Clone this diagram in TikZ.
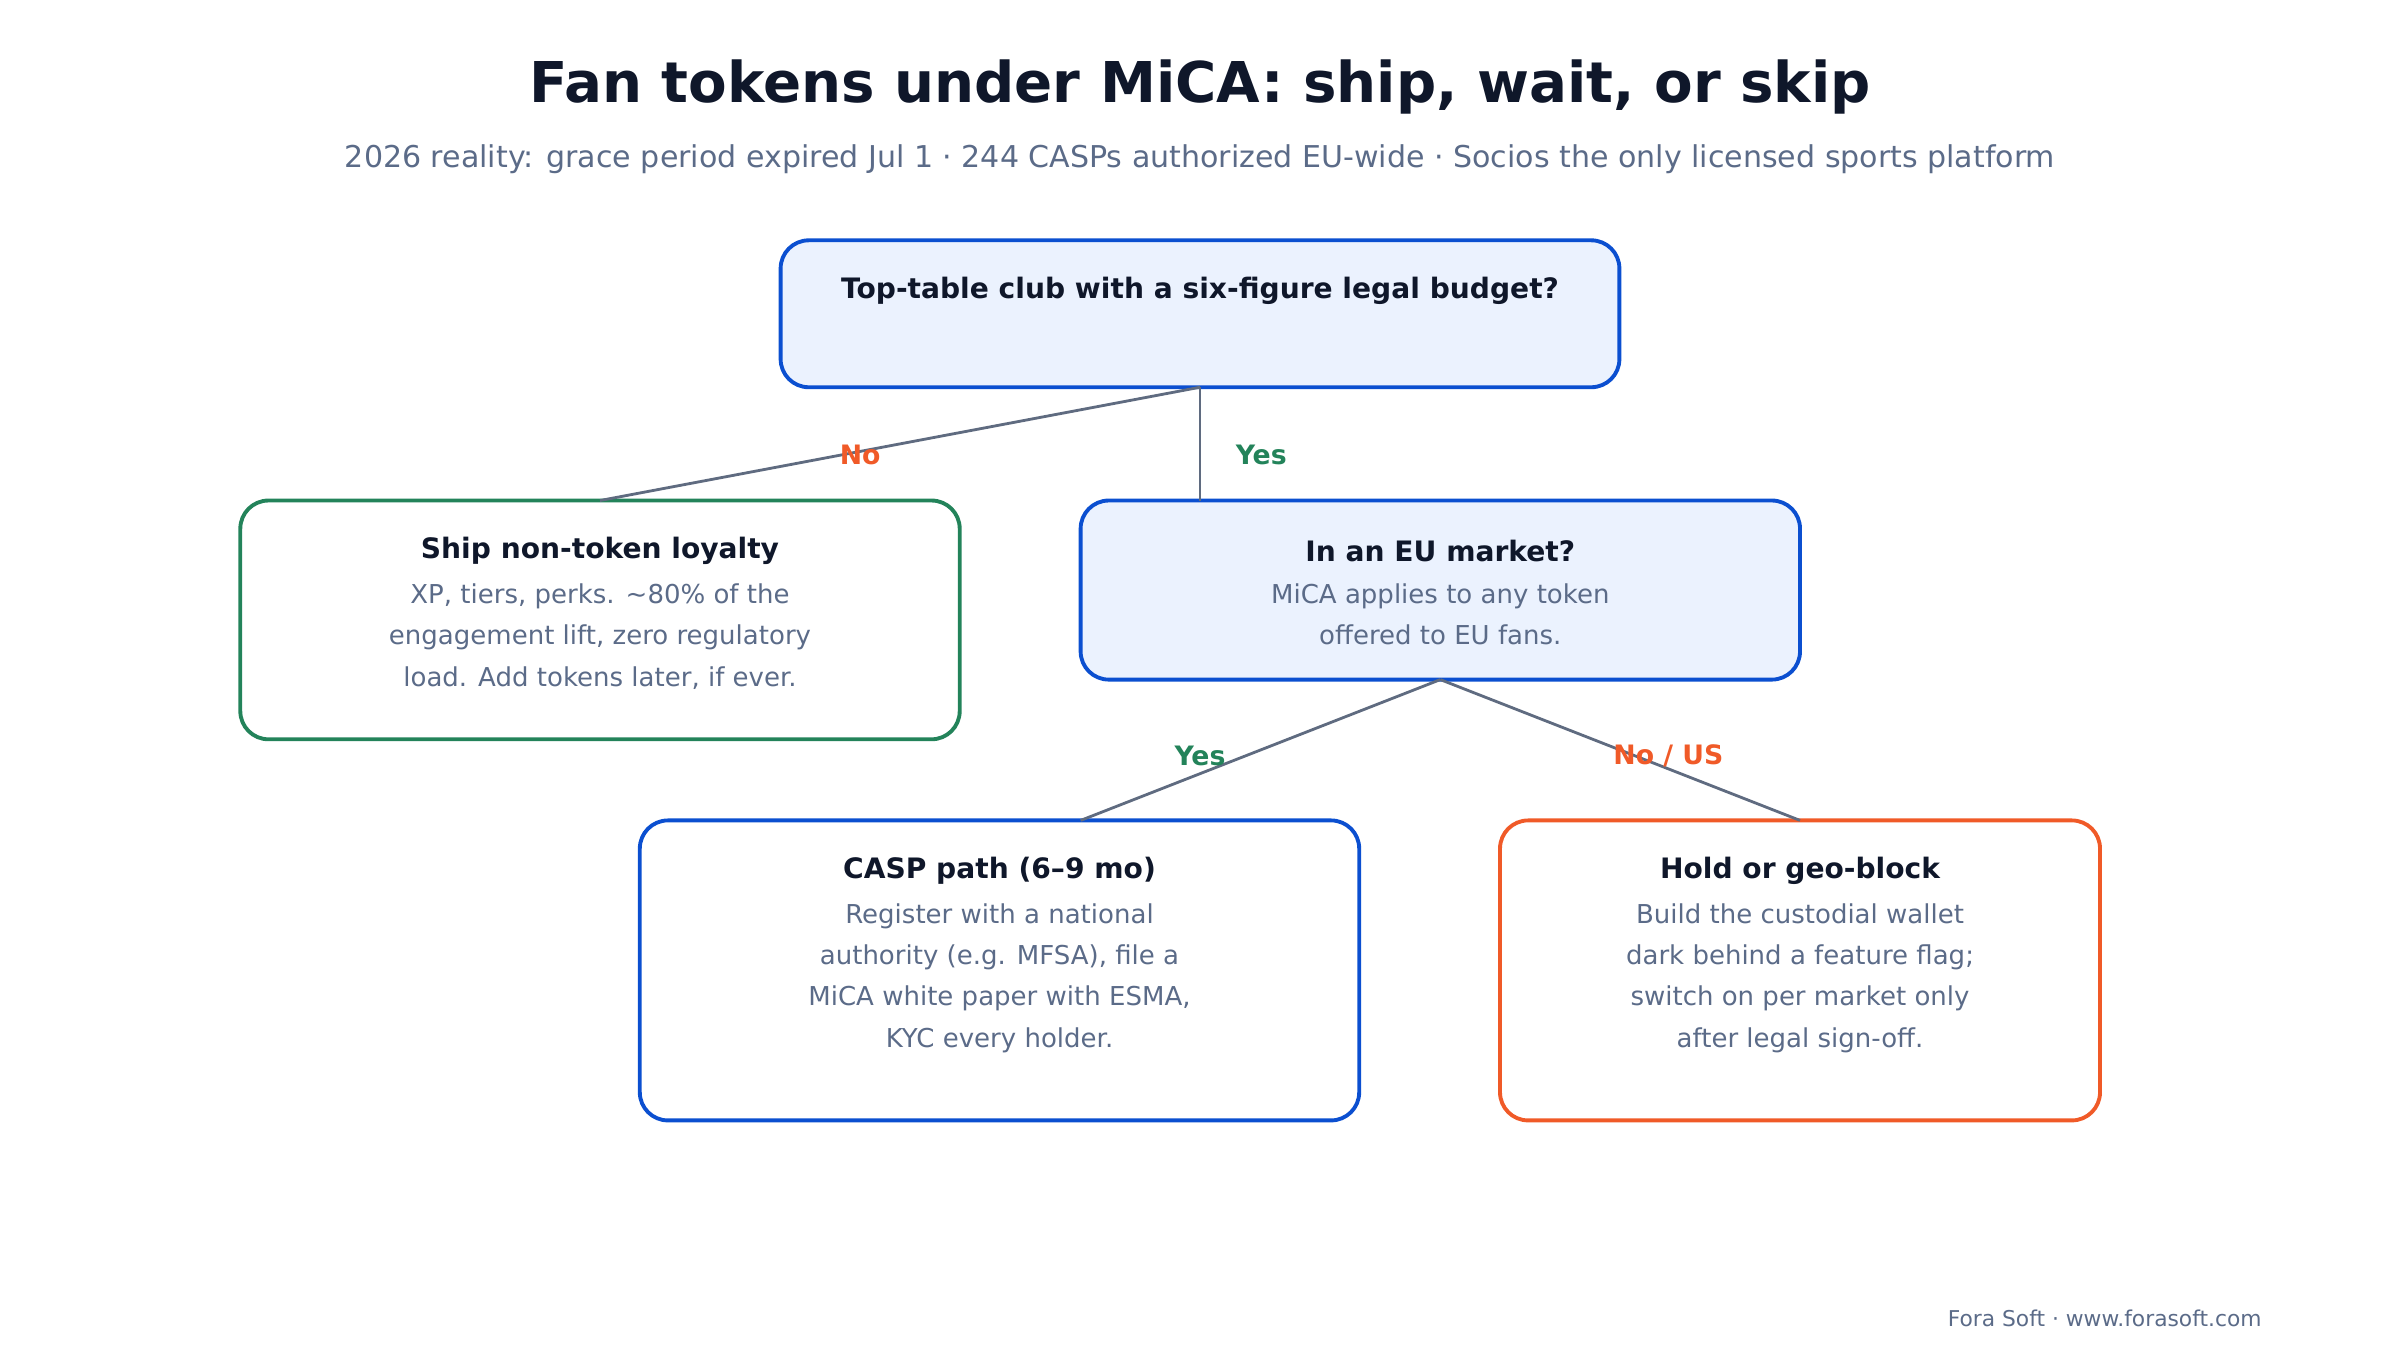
\documentclass[tikz,border=0pt]{standalone}
\usepackage{fontspec}
\setmainfont{DejaVu Sans}
\definecolor{ink}{HTML}{0F172A}
\definecolor{mute}{HTML}{5B6B88}
\definecolor{edge}{HTML}{5F6B80}
\definecolor{blu}{HTML}{0B4FD0}
\definecolor{lblu}{HTML}{EBF2FE}
\definecolor{grn}{HTML}{23835A}
\definecolor{org}{HTML}{F05A28}
\tikzset{
  box/.style={draw, line width=1.1pt, rounded corners=8pt, inner sep=0pt},
  head/.style={font=\fontsize{8}{10}\selectfont\bfseries, text=ink},
  body/.style={font=\fontsize{7.4}{11.8}\selectfont, text=mute, align=center},
  elabel/.style={font=\fontsize{7.6}{9}\selectfont\bfseries},
  link/.style={draw=edge, line width=0.8pt}
}
\begin{document}
\begin{tikzpicture}[x=0.015306cm, y=-0.015306cm]
  \useasboundingbox (0,0) rectangle (1568,888);

  \node[font=\fontsize{16}{19}\selectfont\bfseries, text=ink] (title) at (784,57) {Fan tokens under MiCA: ship, wait, or skip};
  \node[font=\fontsize{8.55}{10}\selectfont, text=mute] (sub) at (784,104) {2026 reality: grace period expired Jul 1 · 244 CASPs authorized EU-wide · Socios the only licensed sports platform};

  % boxes
  \draw[box, draw=blu, fill=lblu] (510,157) rectangle (1058,253);
  \coordinate (topS) at (784,253);
  \draw[box, draw=grn] (157,327) rectangle (627,483);
  \coordinate (leftN) at (392,327);
  \draw[box, draw=blu, fill=lblu] (706,327) rectangle (1176,444);
  \coordinate (midN) at (784,327);
  \coordinate (midS) at (941,444);
  \draw[box, draw=blu] (418,536) rectangle (888,732);
  \coordinate (caspN) at (706,536);
  \draw[box, draw=org] (980,536) rectangle (1372,732);
  \coordinate (holdN) at (1176,536);

  % texts
  \node[head] (qclub) at (784,190) {Top-table club with a six-figure legal budget?};
  \node[head] (ship) at (392,360) {Ship non-token loyalty};
  \node[body, anchor=north] (shipb) at (392,373) {XP, tiers, perks. \textasciitilde80\% of the\\engagement lift, zero regulatory\\load. Add tokens later, if ever.};
  \node[head] (qeu) at (941,360) {In an EU market?};
  \node[body, anchor=north] (qeub) at (941,373) {MiCA applies to any token\\offered to EU fans.};
  \node[head] (casp) at (653,569) {CASP path (6–9 mo)};
  \node[body, anchor=north] (caspb) at (653,582) {Register with a national\\authority (e.g. MFSA), file a\\MiCA white paper with ESMA,\\KYC every holder.};
  \node[head] (hold) at (1176,569) {Hold or geo-block};
  \node[body, anchor=north] (holdb) at (1176,582) {Build the custodial wallet\\dark behind a feature flag;\\switch on per market only\\after legal sign-off.};

  % links
  \draw[link] (topS) -- (leftN);
  \draw[link] (topS) -- (midN);
  \draw[link] (midS) -- (caspN);
  \draw[link] (midS) -- (holdN);
  \node[elabel, text=org] (lno) at (562,297) {No};
  \node[elabel, text=grn] (lyes) at (824,297) {Yes};
  \node[elabel, text=grn] (lyes2) at (784,494) {Yes};
  \node[elabel, text=org] (lnous) at (1090,494) {No / US};

  \node[font=\fontsize{6.2}{7}\selectfont, text=mute, anchor=east, inner sep=0pt] (foot) at (1478,861) {Fora Soft · www.forasoft.com};
\end{tikzpicture}
\end{document}
